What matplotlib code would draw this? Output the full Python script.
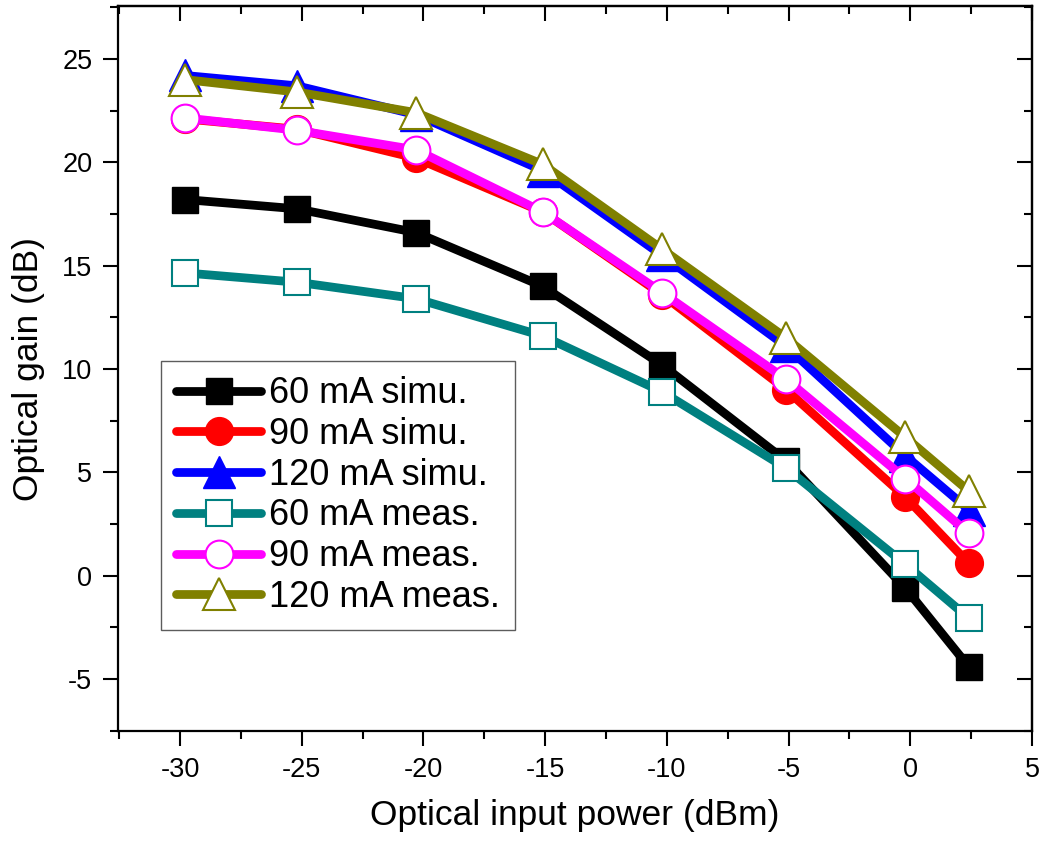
import numpy as np
import matplotlib
matplotlib.use("Agg")
import matplotlib.pyplot as plt
from matplotlib.ticker import MultipleLocator

plt.rcParams['font.family'] = ['Liberation Sans', 'DejaVu Sans']
plt.rcParams['axes.unicode_minus'] = False

# data
power = [-29.8, -25.2, -20.3, -15.1, -10.2, -5.1, -0.2, 2.4]
sim_60 = [18.2, 17.75, 16.6, 14.0, 10.2, 5.55, -0.6, -4.4]
sim_90 = [22.1, 21.6, 20.2, 17.6, 13.6, 9.0, 3.8, 0.6]
sim_120 = [24.2, 23.7, 22.3, 19.6, 15.5, 11.1, 5.8, 3.2]
meas_60 = [14.65, 14.2, 13.4, 11.6, 8.9, 5.2, 0.55, -2.05]
meas_90 = [22.15, 21.55, 20.6, 17.6, 13.7, 9.5, 4.7, 2.05]
meas_120 = [24.0, 23.4, 22.4, 19.9, 15.8, 11.5, 6.7, 4.1]

labels = ["60 mA simu.", "90 mA simu.", "120 mA simu.",
          "60 mA meas.", "90 mA meas.", "120 mA meas."]
colors = ["black", "#FF0000", "#0000FF", "#008080", "#FF00FF", "#808000"]

fig = plt.figure(figsize=(10.47, 8.49), dpi=100)
ax = fig.add_axes([0.1127, 0.139, 0.8730, 0.8539])

series = [sim_60, sim_90, sim_120, meas_60, meas_90, meas_120]
markers = ["s", "o", "^", "s", "o", "^"]
msizes = [18.5, 20, 23, 18.5, 20, 23]
for i, (y, lab, c, m, ms) in enumerate(zip(series, labels, colors, markers, msizes)):
    filled = i < 3
    ax.plot(power, y, color=c, lw=6.3, marker=m, markersize=ms,
            markerfacecolor=c if filled else "white",
            markeredgecolor=c, markeredgewidth=1.5 if not filled else 1.0,
            label=lab, solid_capstyle="round", zorder=2 + i)

ax.set_xlim(-32.55, 5.0)
ax.set_ylim(-7.51, 27.56)
ax.xaxis.set_major_locator(MultipleLocator(5))
ax.xaxis.set_minor_locator(MultipleLocator(2.5))
ax.yaxis.set_major_locator(MultipleLocator(5))
ax.yaxis.set_minor_locator(MultipleLocator(2.5))
ax.set_yticks([-5, 0, 5, 10, 15, 20, 25])
ax.tick_params(which="major", direction="out", length=10.5, width=1.5,
               labelsize=19.5, pad=8)
ax.tick_params(which="minor", direction="out", length=5.5, width=1.5)
for s in ax.spines.values():
    s.set_linewidth(1.6)

# mirrored ticks pointing inward on top and right
top = ax.secondary_xaxis("top")
top.xaxis.set_major_locator(MultipleLocator(5))
top.xaxis.set_minor_locator(MultipleLocator(2.5))
top.tick_params(which="major", direction="in", length=11, width=1.5, labeltop=False)
top.tick_params(which="minor", direction="in", length=6, width=1.5)
right = ax.secondary_yaxis("right")
right.yaxis.set_major_locator(MultipleLocator(5))
right.yaxis.set_minor_locator(MultipleLocator(2.5))
right.tick_params(which="major", direction="in", length=11, width=1.5, labelright=False)
right.tick_params(which="minor", direction="in", length=6, width=1.5)
for sa in (top, right):
    for s in sa.spines.values():
        s.set_linewidth(1.6)

ax.set_xlabel("Optical input power (dBm)", fontsize=25.5, labelpad=12)
ax.set_ylabel("Optical gain (dB)", fontsize=25.5, labelpad=12)

leg = ax.legend(loc="lower left", bbox_to_anchor=(0.047, 0.139), borderaxespad=0,
                fontsize=26, frameon=True, fancybox=False, edgecolor="#333333",
                handlelength=2.35, handletextpad=0.22, labelspacing=0.16,
                borderpad=0.42, markerscale=1.0)
leg.get_frame().set_linewidth(1.0)

fig.savefig("out.png", dpi=100)
